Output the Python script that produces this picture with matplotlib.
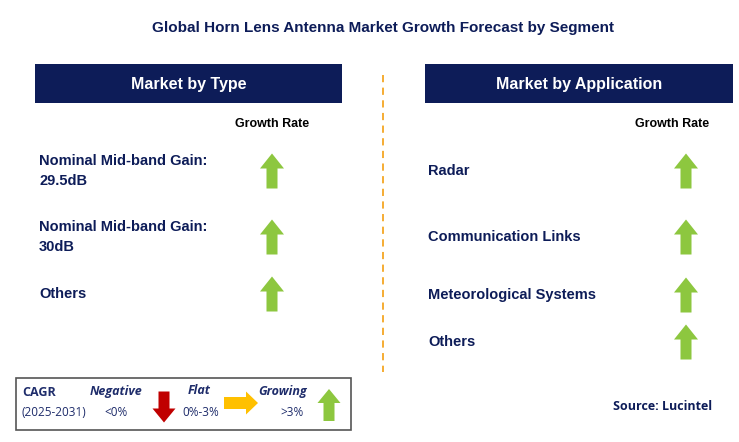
import matplotlib
matplotlib.use("Agg")
import matplotlib.pyplot as plt
from matplotlib.patches import Rectangle, Polygon

title = "Global Horn Lens Antenna Market Growth Forecast by Segment"
left_header = "Market by Type"
right_header = "Market by Application"
type_segments = ["Nominal Mid-band Gain:\n29.5dB", "Nominal Mid-band Gain:\n30dB", "Others"]
type_growth = ["growing", "growing", "growing"]
app_segments = ["Radar", "Communication Links", "Meteorological Systems", "Others"]
app_growth = ["growing", "growing", "growing", "growing"]
source = "Source: Lucintel"

NAVY = "#0d1c58"
GREEN = "#8dc73f"
RED = "#c00000"
YELLOW = "#ffc000"
TXT = "#1f2d6b"

fig = plt.figure(figsize=(7.39, 4.42), dpi=100)
ax = fig.add_axes([0, 0, 1, 1])
ax.set_xlim(0, 739)
ax.set_ylim(442, 0)
ax.axis("off")

FONT = "Liberation Sans"

def up_arrow(cx, cy, color, h=35, bw=11, hw=24, hh=15):
    top = cy - h / 2
    bot = cy + h / 2
    pts = [(cx, top), (cx + hw / 2, top + hh), (cx + bw / 2, top + hh), (cx + bw / 2, bot),
           (cx - bw / 2, bot), (cx - bw / 2, top + hh), (cx - hw / 2, top + hh)]
    ax.add_patch(Polygon(pts, closed=True, color=color, lw=0))

def down_arrow(cx, cy, color, h=34, bw=11, hw=23, hh=15):
    top = cy - h / 2
    bot = cy + h / 2
    pts = [(cx, bot), (cx + hw / 2, bot - hh), (cx + bw / 2, bot - hh), (cx + bw / 2, top),
           (cx - bw / 2, top), (cx - bw / 2, bot - hh), (cx - hw / 2, bot - hh)]
    ax.add_patch(Polygon(pts, closed=True, color=color, lw=0))

def right_arrow(cx, cy, color, w=34, bh=11, hh=23, hw=13):
    l = cx - w / 2
    r = cx + w / 2
    pts = [(r, cy), (r - hw, cy - hh / 2), (r - hw, cy - bh / 2), (l, cy - bh / 2),
           (l, cy + bh / 2), (r - hw, cy + bh / 2), (r - hw, cy + hh / 2)]
    ax.add_patch(Polygon(pts, closed=True, color=color, lw=0))

ax.text(383, 28, title, ha="center", va="center", fontsize=11, fontweight="bold",
        color=NAVY, family=FONT)

for x0, x1, lab in [(35, 342, left_header), (425, 733, right_header)]:
    ax.add_patch(Rectangle((x0, 64), x1 - x0, 39, color=NAVY, lw=0))
    ax.text((x0 + x1) / 2, 84, lab, ha="center", va="center", fontsize=11.5,
            fontweight="bold", color="white", family=FONT)

ax.plot([383, 383], [75, 372], ls=(0, (4, 3)), color="#f5a623", lw=1.3)

ax.text(272, 124, "Growth Rate", ha="center", va="center", fontsize=9,
        fontweight="bold", color="black", family=FONT)
ax.text(672, 124, "Growth Rate", ha="center", va="center", fontsize=9,
        fontweight="bold", color="black", family=FONT)

for y, seg, g in zip([171, 237, 294], type_segments, type_growth):
    ax.text(39, y, seg, ha="left", va="center", fontsize=10.5, fontweight="bold",
            color=NAVY, family=FONT, linespacing=1.6)
    up_arrow(272, y, GREEN)

for y, seg, g in zip([171, 237, 295, 342], app_segments, app_growth):
    ax.text(428, y, seg, ha="left", va="center", fontsize=10.5, fontweight="bold",
            color=NAVY, family=FONT)
    up_arrow(686, y, GREEN)

# legend
ax.add_patch(Rectangle((16, 378), 335, 52, fill=False, ec="#555555", lw=1.2))
LF = "Open Sans"
ax.text(22, 393, "CAGR", fontsize=9, fontweight="bold", color=TXT, family=LF, va="center")
ax.text(22, 412, "(2025-2031)", fontsize=8.5, color=TXT, family=LF, va="center")
ax.text(116, 391, "Negative", fontsize=9, fontweight="bold", style="italic", color=TXT,
        family=LF, ha="center", va="center")
ax.text(116, 413, "<0%", fontsize=8.5, color=TXT, family=LF, ha="center", va="center")
down_arrow(164, 407, RED, h=31, bw=11, hw=23, hh=14)
ax.text(199, 391, "Flat", fontsize=9, fontweight="bold", style="italic", color=TXT,
        family=LF, ha="center", va="center")
ax.text(201, 413, "0%-3%", fontsize=8.5, color=TXT, family=LF, ha="center", va="center")
right_arrow(241, 403, YELLOW, w=34, bh=12, hh=23, hw=12)
ax.text(283, 391, "Growing", fontsize=9, fontweight="bold", style="italic", color=TXT,
        family=LF, ha="center", va="center")
ax.text(292, 413, ">3%", fontsize=8.5, color=TXT, family=LF, ha="center", va="center")
up_arrow(329, 405, GREEN, h=32, bw=11, hw=23, hh=14)

ax.text(712, 406, source, ha="right", va="center", fontsize=9, fontweight="bold",
        color=NAVY, family=LF)

fig.savefig("out.png", dpi=100)
